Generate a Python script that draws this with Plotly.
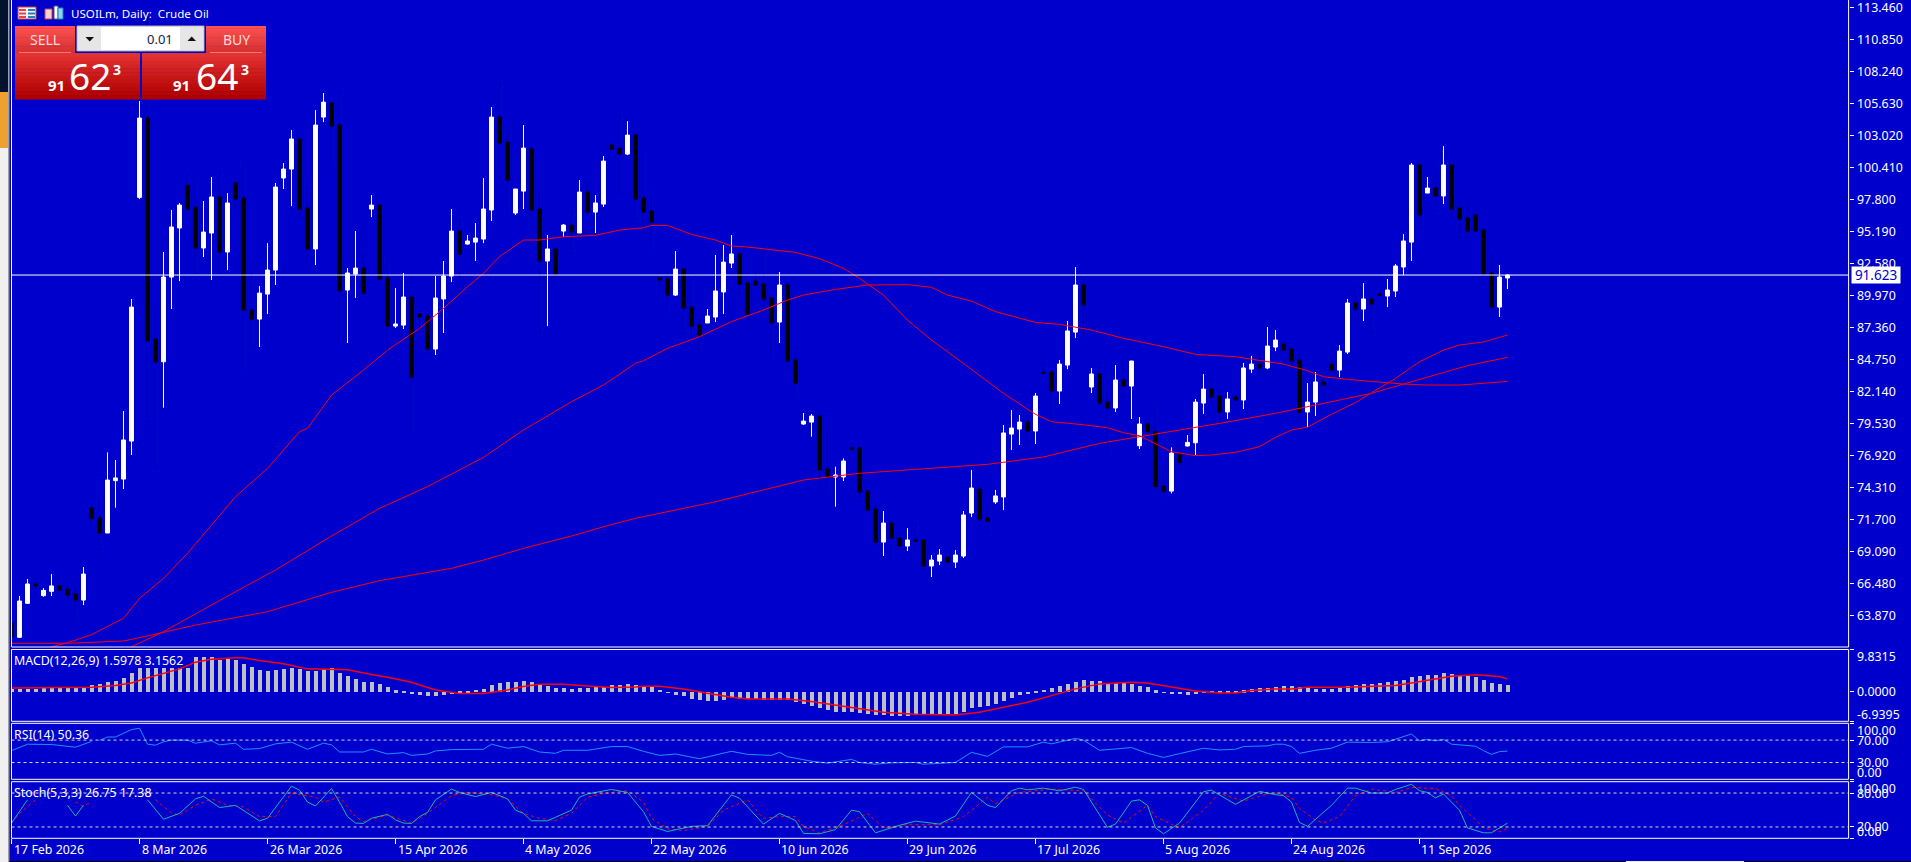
import plotly.graph_objects as go

W = 1911
H = 862

bar_pos = list(range(188))

open_px = [63.26,62.07,64.84,66.42,65.47,65.82,66.26,65.98,65.60,65.11,
72.62,71.80,70.58,74.85,74.98,78.08,97.96,104.43,86.38,84.55,
91.46,95.46,98.94,97.14,93.83,95.05,97.99,93.50,99.13,97.90,
88.77,88.03,90.07,92.03,99.54,100.27,102.72,97.09,93.75,104.51,
105.65,103.86,90.40,91.70,92.19,97.01,97.33,91.38,87.46,87.54,
89.83,88.44,88.28,85.59,89.67,91.54,95.21,94.15,94.31,94.56,
96.93,104.51,102.47,96.68,98.47,101.90,97.01,92.77,93.75,95.21,
95.70,95.05,98.39,96.76,97.41,102.23,101.98,101.49,103.04,97.90,
96.84,91.38,91.30,89.99,92.11,89.01,87.54,87.71,88.20,90.24,
92.60,93.34,90.97,91.13,90.89,89.75,87.79,90.81,84.69,79.47,
79.63,80.12,75.80,75.15,75.15,77.51,77.51,74.00,72.53,69.84,
71.39,70.17,69.52,70.01,70.01,67.89,68.29,68.62,68.21,68.70,
72.21,74.17,71.80,73.11,73.52,78.65,79.06,79.63,78.90,83.68,
83.71,82.16,84.28,86.97,90.81,82.49,83.55,81.26,80.78,83.06,
82.57,77.70,79.47,78.84,74.41,74.00,77.00,77.68,77.94,81.18,
82.32,81.75,80.45,81.67,81.43,83.95,84.36,84.04,85.75,85.99,
85.59,84.69,80.45,81.26,82.90,84.36,83.87,85.34,89.34,88.85,
89.67,90.07,89.91,90.32,92.28,94.31,100.60,98.31,98.72,98.07,
100.60,97.09,96.27,96.52,95.29,91.79,89.01,91.38]

high_px = [63.56,65.44,66.83,67.02,66.09,67.23,67.15,66.58,66.66,67.80,
73.03,73.13,77.16,76.53,80.53,89.67,105.82,112.75,89.15,93.50,
96.93,97.50,99.86,99.37,97.66,99.62,100.19,98.31,99.54,101.00,
92.68,90.73,94.23,99.13,100.76,103.45,102.96,98.80,105.08,106.47,
105.73,106.63,92.19,95.21,93.42,98.15,97.58,93.17,90.56,91.79,
90.07,88.44,88.50,91.54,92.77,97.01,96.27,94.89,95.86,99.54,
105.33,107.37,103.45,98.64,103.86,102.31,98.47,94.89,94.07,95.78,
96.93,99.37,99.29,98.15,101.33,102.39,104.76,104.18,103.45,101.66,
98.47,91.38,91.87,93.58,92.19,91.30,88.03,88.85,93.26,94.07,
94.89,93.66,91.54,91.87,93.50,89.75,91.87,91.05,85.75,80.37,
80.29,80.12,79.14,75.99,76.67,77.84,77.68,74.17,73.03,72.37,
71.72,70.25,70.98,71.47,70.01,68.78,69.27,68.62,69.19,72.37,
75.72,74.41,72.94,74.09,79.39,80.61,80.20,80.29,82.00,84.45,
84.04,84.69,87.87,92.28,91.30,84.04,84.61,82.16,84.28,84.45,
84.61,80.04,79.71,80.94,75.77,77.57,77.84,78.57,81.51,83.55,
83.14,82.32,82.08,81.83,84.45,85.02,85.67,87.38,87.14,86.16,
85.83,85.34,82.81,83.71,83.06,84.85,85.91,89.67,90.81,90.97,
89.91,90.32,91.30,92.52,94.97,100.76,100.76,99.62,100.70,102.15,
100.60,97.74,97.74,96.52,95.46,93.34,92.44,91.68]

low_px = [62.12,62.01,64.79,65.71,65.38,65.44,65.47,65.03,63.48,64.70,
70.90,69.11,70.58,72.64,74.17,76.94,97.82,79.58,75.94,80.80,
88.85,91.13,96.68,91.76,93.09,91.22,91.76,92.03,96.11,83.87,
85.75,85.75,88.44,90.81,98.64,97.25,96.19,92.36,92.44,104.10,
100.68,85.91,86.08,89.75,89.99,96.35,90.89,84.77,87.30,87.22,
78.82,86.87,85.10,85.10,86.89,91.05,91.22,94.12,92.77,94.23,
96.03,100.27,96.44,96.52,97.01,96.35,86.81,87.46,90.89,94.72,
93.26,95.05,96.44,95.05,97.17,101.49,98.15,101.41,96.11,94.89,
93.75,90.40,88.52,89.91,86.73,86.48,85.34,87.71,87.79,88.44,
92.19,89.99,87.95,90.48,88.85,84.69,86.08,83.79,81.75,79.39,
78.44,74.69,73.95,72.73,74.82,77.02,73.03,72.29,69.44,68.70,
68.37,69.44,69.11,69.03,67.80,66.99,67.97,68.13,67.72,68.54,
71.88,71.07,70.58,72.94,72.45,77.35,77.76,77.89,77.84,83.47,
79.39,81.10,83.95,86.48,86.57,82.00,80.86,77.13,80.45,81.67,
79.88,77.43,77.35,74.22,73.46,73.81,75.66,77.62,76.94,80.29,
81.26,79.31,79.88,81.35,80.69,83.63,83.22,83.95,85.42,85.42,
83.87,79.80,79.22,80.12,81.51,83.63,83.30,85.18,87.63,87.87,
86.89,89.83,89.01,89.83,91.62,92.77,95.38,98.31,96.76,97.41,
96.27,94.56,94.56,95.13,90.81,88.28,88.20,90.48]

close_px = [62.12,65.03,66.42,66.26,65.90,66.26,65.93,65.52,65.11,67.23,
71.75,70.58,74.90,75.07,78.17,89.01,104.43,86.27,84.55,91.46,
95.54,97.33,97.01,93.83,95.13,97.99,93.50,97.50,97.82,88.77,
88.03,90.15,92.03,98.80,100.27,102.72,97.01,93.75,103.86,105.73,
103.78,90.32,91.79,92.19,90.15,97.33,91.30,87.46,87.63,89.83,
83.30,88.20,85.59,89.75,91.54,95.21,93.34,94.40,94.64,97.01,
104.51,102.39,99.37,98.64,101.98,96.93,92.77,93.75,91.70,95.70,
95.13,98.39,96.76,97.50,100.92,101.90,101.49,103.04,97.82,96.76,
95.94,91.22,89.99,92.11,88.93,87.46,86.73,88.28,90.32,92.68,
93.34,90.89,88.44,90.81,89.67,87.71,90.81,84.61,82.81,79.71,
80.12,75.72,75.15,75.31,76.45,77.43,73.92,72.45,69.84,71.39,
70.17,69.52,70.01,69.93,67.89,68.37,68.78,68.21,68.78,72.05,
74.25,71.72,71.56,73.60,78.74,79.14,79.63,78.90,81.75,83.63,
82.16,84.36,87.06,90.81,89.18,83.55,81.18,80.78,83.06,82.57,
84.61,79.47,78.84,74.36,74.00,77.10,76.32,77.97,81.26,82.32,
81.67,80.45,81.51,81.43,84.04,84.36,84.04,85.83,86.32,85.50,
84.61,80.45,81.26,82.90,82.65,83.87,85.42,89.34,88.85,89.67,
89.26,89.99,90.40,92.36,94.40,100.60,96.52,98.72,98.07,100.60,
97.01,96.19,95.21,95.21,91.70,89.01,91.46,91.62]

# moving averages, read at the bars listed
ma_a_pos = [5,7,10,14,16,19,22,25,28,32,36,37,40,44,47,51,54,57,59,61,64,66,69,73,76,79,80,82,85,88,90,92,95,98,101,104,106,109,112,115,119,124,128,130,134,137,139,141,145,148,150,153,156,158,160,162,165,168,170,173,176,179,181,184,187]
ma_a = [61.30,61.63,62.28,63.62,65.25,66.88,68.92,71.23,73.54,75.85,78.84,79.12,81.83,83.87,85.50,87.27,88.90,90.67,91.76,93.12,94.48,94.48,94.75,94.86,95.29,95.48,95.67,95.67,94.94,94.48,93.99,93.91,93.69,93.47,92.96,92.17,91.35,89.99,87.95,86.32,84.42,81.97,80.26,79.66,79.41,79.17,78.76,78.52,77.21,76.89,76.94,77.16,77.62,78.38,78.98,79.22,80.26,81.21,82.02,83.19,84.55,85.50,85.91,86.16,86.73]
ma_b_pos = [15,19,28,33,40,46,52,59,64,70,74,78,79,82,86,90,94,97,99,103,107,112,115,117,120,123,128,131,135,139,144,148,153,157,159,162,164,167,171,174,177,181,184,187]
ma_b = [61.30,62.53,65.79,67.56,70.33,72.59,74.36,76.75,78.98,81.29,82.65,84.42,84.63,85.64,86.59,87.82,88.77,89.58,89.99,90.45,90.81,90.84,90.62,89.99,89.50,88.63,87.76,87.60,87.14,86.46,85.78,85.15,84.96,84.55,84.36,83.82,83.33,83.11,82.87,82.73,82.65,82.65,82.79,82.95]
ma_c_pos = [0,7,14,17,23,32,40,46,55,59,64,70,74,78,88,99,106,114,122,129,136,146,151,158,164,170,176,182,187]
ma_c = [61.58,61.58,61.77,62.18,63.07,64.16,65.74,66.69,67.70,68.37,69.33,70.33,71.09,71.78,73.13,74.90,75.45,75.80,76.18,76.78,77.89,78.98,79.52,80.34,81.15,81.97,83.11,84.23,84.91]

last_price = 91.623

price_ticks = [113.46,110.85,108.24,105.63,103.02,100.41,97.80,95.19,92.58,89.97,87.36,84.75,82.14,79.53,76.92,74.31,71.70,69.09,66.48,63.87]
price_labels = ["113.460","110.850","108.240","105.630","103.020","100.410","97.800","95.190","92.580","89.970","87.360","84.750","82.140","79.530","76.920","74.310","71.700","69.090","66.480","63.870"]

macd_hist = [0.70,0.70,0.70,0.70,1.09,1.09,1.09,1.09,1.09,1.09,
1.64,1.88,2.27,2.58,3.28,4.38,5.55,5.55,5.55,5.55,
5.55,5.55,5.55,8.13,8.13,8.13,7.58,7.73,7.42,6.48,
5.78,5.08,4.84,5.08,5.31,5.55,5.31,4.84,4.84,5.31,
5.55,4.38,3.67,2.97,2.27,2.27,1.80,1.09,0.39,0.20,
-0.5,-0.7,-0.95,-0.95,-0.7,-0.25,0.2,0.35,0.5,0.75,
1.6,2.1,2.35,2.35,2.6,2.35,1.6,1.4,0.95,0.95,
0.75,0.95,0.95,1.15,1.15,1.65,1.65,1.9,1.65,1.3,
1.3,0.5,-0.1,-0.6,-1.0,-1.5,-1.9,-2.1,-2.1,-1.8,
-1.4,-1.5,-1.7,-1.7,-1.8,-1.8,-1.8,-1.9,-2.3,-2.8,
-3.2,-3.7,-4.2,-4.7,-4.7,-4.7,-4.9,-5.1,-5.4,-5.4,
-5.6,-5.6,-5.6,-5.4,-5.4,-5.4,-5.2,-5.2,-5.2,-4.7,
-3.7,-3.5,-3.2,-2.8,-2.1,-1.4,-0.7,-0.4,0.2,0.6,
0.9,1.4,1.9,2.4,2.9,2.6,2.5,2.1,2.1,2.1,
1.9,1.4,1.2,0.4,-0.2,-0.4,-0.4,-0.6,-0.4,-0.1,
0.05,0.1,0.15,0.2,0.4,0.7,0.9,1.0,1.3,1.4,
1.4,1.2,1.0,0.7,0.7,0.7,1.2,1.4,1.65,1.9,
1.9,2.1,2.35,2.6,2.8,3.5,3.75,4.0,4.0,4.45,
4.2,4.0,3.75,3.5,2.8,2.1,1.9,1.6]
macd_sig_pos = [0,4,8,10,13,15,17,19,21,23,25,28,29,31,34,37,40,42,45,47,50,53,56,59,62,64,66,69,72,75,78,79,81,84,87,90,92,97,100,103,106,109,113,118,121,124,127,130,133,136,140,142,145,148,151,153,155,158,160,162,167,171,173,175,178,180,183,186,187]
macd_sig = [0.86,0.86,0.86,1.02,1.41,2.03,3.20,4.30,5.31,6.88,7.58,7.89,7.89,7.27,6.48,5.31,5.08,5.08,3.98,3.36,2.19,0.39,-0.47,-0.47,0.39,1.17,1.72,1.72,1.33,0.94,1.09,1.25,1.25,0.63,-0.39,-1.33,-1.72,-1.72,-2.34,-3.13,-4.06,-4.84,-5.31,-5.47,-4.84,-3.67,-2.50,-0.94,0.63,1.80,2.19,2.03,1.09,0.16,-0.31,-0.31,0.23,0.63,0.63,1.02,1.02,1.33,1.41,2.03,2.97,3.59,3.91,3.52,2.97]

# None = hidden behind the indicator caption in the terminal
rsi_pos = [0,2,5,8,10,None,11,12,13,15,16,17,18,19,20,22,23,25,26,28,29,31,33,35,37,39,40,41,44,45,47,49,50,52,53,55,59,60,62,64,66,68,69,72,75,77,79,81,83,86,90,92,95,96,97,100,102,105,106,108,110,113,114,118,120,122,124,127,129,130,133,134,136,140,142,144,146,149,151,153,154,157,158,159,160,161,163,165,167,170,172,175,176,177,178,179,180,182,183,184,185,186,187]
rsi_val = [51.2,62.7,62.1,57.3,67.6,None,69.4,75.5,75.5,88.8,91.2,62.7,60.9,67.0,70.0,70.0,64.5,68.8,61.5,64.5,53.6,54.8,63.3,66.4,53.6,64.5,61.5,48.8,48.8,53.6,45.2,47.6,42.7,45.2,50.6,53.0,53.6,62.7,55.5,58.5,48.8,46.4,51.8,51.8,58.5,58.5,50.0,42.7,45.2,36.7,50.0,44.5,42.7,48.2,40.3,32.4,28.8,35.5,30.0,27.0,29.4,30.0,27.0,30.0,48.2,40.9,57.9,57.9,66.4,63.3,73.0,70.0,51.8,56.7,46.4,39.1,45.8,55.5,52.4,53.6,58.5,59.7,62.7,62.7,58.5,46.4,51.8,55.5,66.4,65.8,67.0,80.9,68.8,71.2,68.8,71.2,62.7,59.7,59.1,51.2,44.5,49.4,50.36]

stoch_pos = [0,1,2,None,7,8,9,None,17,19,21,23,24,26,28,31,32,35,36,37,38,40,41,42,43,44,45,47,48,49,50,51,52,53,55,56,58,60,62,63,64,65,67,70,71,72,75,77,79,80,82,85,87,90,91,94,96,98,99,101,103,105,106,108,111,113,116,118,120,122,123,125,126,127,129,131,133,134,137,138,140,141,142,143,144,146,149,150,153,156,158,159,160,161,162,165,167,168,170,172,173,175,176,177,178,179,181,182,184,185,187]
stoch_val = [26.9,46.9,68.0,None,58.3,39.4,58.3,None,68.0,33.7,44.0,69.7,74.3,54.3,58.3,30.9,35.4,92.0,85.1,64.0,57.1,88.0,64.0,38.3,26.9,26.3,35.4,42.3,32.6,26.9,26.3,38.3,45.7,68.0,86.9,81.1,73.7,81.1,69.7,49.7,44.0,30.9,30.9,49.7,72.6,78.3,86.3,81.1,46.9,21.1,12.0,21.1,22.3,76.6,70.9,25.1,44.0,31.4,8.6,8.0,15.4,49.7,46.9,9.7,22.9,30.3,25.1,39.4,81.1,58.3,54.3,84.0,88.6,85.7,88.6,84.0,90.3,86.3,19.4,25.1,65.7,68.0,58.3,18.3,8.0,26.9,82.3,85.1,60.0,82.9,77.1,75.4,64.0,28.0,21.1,58.3,88.6,88.6,80.0,80.0,86.3,95.4,84.0,81.1,71.4,78.3,49.7,18.3,9.7,9.7,26.75]
stoch_sig_pos = [0,1,3,None,8,9,10,None,18,20,21,23,25,27,29,31,33,35,38,39,41,43,44,47,50,52,55,57,60,62,64,66,68,70,72,74,77,79,80,82,84,87,89,92,94,96,98,99,101,104,107,109,112,116,119,122,123,126,130,134,137,139,142,143,146,149,151,154,157,158,160,161,163,164,166,168,170,173,175,178,180,181,183,184,186,187]
stoch_sig = [26.9,44.0,68.0,None,64.0,56.5,64.0,None,68.0,44.0,41.1,58.3,69.7,58.3,55.4,38.3,38.3,80.0,72.6,64.0,72.6,38.3,29.7,41.1,26.9,44.0,75.4,81.1,77.1,69.7,44.0,35.4,31.4,44.0,72.6,79.4,84.0,64.0,35.4,16.6,13.7,21.1,49.7,68.0,35.4,38.3,38.3,21.1,9.7,24.0,44.0,18.3,24.0,24.0,38.3,72.6,61.1,81.1,86.9,84.0,41.1,26.9,58.3,38.3,18.3,49.7,79.4,65.7,78.3,80.0,72.6,52.6,32.6,26.9,38.3,75.4,86.9,81.1,89.7,88.0,75.4,58.3,32.6,18.3,11.4,17.38]

macd_labels = [9.8315, 0.0, -6.9395]
macd_text = ["9.8315", "0.0000", "-6.9395"]
rsi_levels = [70, 30]
rsi_labels = [100, 70, 30, 0]
rsi_text = ["100.00", "70.00", "30.00", "0.00"]
stoch_levels = [80, 20]
stoch_labels = [100, 80, 20, 0]
stoch_text = ["100.00", "80.00", "20.00", "0.00"]

date_pos = [0,16,32,48,64,80,96,112,128,144,160,176]
date_text = ["17 Feb 2026","8 Mar 2026","26 Mar 2026","15 Apr 2026","4 May 2026","22 May 2026","10 Jun 2026","29 Jun 2026","17 Jul 2026","5 Aug 2026","24 Aug 2026","11 Sep 2026"]

BG = "#0000CD"
FONT = "Noto Sans"
LABEL_SIZE = 12.4
DASH = "#D8D8C8"

X_LEFT = 11.5
X_RIGHT = 1848.6


def dom(y_top, y_bot):
    return [1 - y_bot / H, 1 - y_top / H]


shapes = []
notes = []


def rect(x0, y0, x1, y1, fill, line=None):
    shapes.append(dict(type="rect", xref="paper", yref="paper",
                       x0=x0 / W, x1=x1 / W, y0=1 - y0 / H, y1=1 - y1 / H,
                       fillcolor=fill, line=dict(color=line or fill, width=1 if line else 0)))


def gradient(x0, y0, x1, y1, top, bottom, steps=12):
    for k in range(steps):
        t = k / (steps - 1)
        col = "rgb(%d,%d,%d)" % tuple(top[j] + (bottom[j] - top[j]) * t for j in range(3))
        ya = y0 + (y1 - y0) * k / steps
        yb = y0 + (y1 - y0) * (k + 1) / steps
        rect(x0, ya, x1, yb + 0.5, col)


def tri(xs, ys, fill):
    path = "M " + " L ".join("%f,%f" % (x / W, 1 - y / H) for x, y in zip(xs, ys)) + " Z"
    shapes.append(dict(type="path", xref="paper", yref="paper", path=path, fillcolor=fill, line=dict(width=0)))


def text(x, y, s, size=LABEL_SIZE, color="white", anchor="left", bold=False):
    notes.append(dict(xref="paper", yref="paper", x=x / W, y=1 - y / H, text="<b>%s</b>" % s if bold else s,
                      showarrow=False, xanchor=anchor, yanchor="middle",
                      font=dict(family=FONT, size=size, color=color), borderpad=0, borderwidth=0))


fig = go.Figure()

fig.add_trace(go.Candlestick(x=bar_pos, open=open_px, high=high_px, low=low_px, close=close_px,
                             increasing=dict(line=dict(color="white", width=1), fillcolor="white"),
                             decreasing=dict(line=dict(color="black", width=1), fillcolor="black"),
                             whiskerwidth=0, showlegend=False, hoverinfo="skip", yaxis="y"))
for pos, vals in [(ma_a_pos, ma_a), (ma_b_pos, ma_b), (ma_c_pos, ma_c)]:
    fig.add_trace(go.Scatter(x=pos, y=vals, mode="lines", line=dict(color="#FF0000", width=1),
                             showlegend=False, hoverinfo="skip", yaxis="y"))

fig.add_trace(go.Bar(x=bar_pos, y=macd_hist, width=0.45, marker=dict(color="#C0C0C0", line=dict(width=0)),
                     showlegend=False, hoverinfo="skip", yaxis="y2"))
fig.add_trace(go.Scatter(x=macd_sig_pos, y=macd_sig, mode="lines", line=dict(color="#FF0000", width=1.5),
                         showlegend=False, hoverinfo="skip", yaxis="y2"))

fig.add_trace(go.Scatter(x=rsi_pos, y=rsi_val, mode="lines", line=dict(color="#1E90FF", width=1),
                         showlegend=False, hoverinfo="skip", yaxis="y3"))

fig.add_trace(go.Scatter(x=stoch_sig_pos, y=stoch_sig, mode="lines", line=dict(color="#FF0000", width=1, dash="3px,3px"),
                         showlegend=False, hoverinfo="skip", yaxis="y4"))
fig.add_trace(go.Scatter(x=stoch_pos, y=stoch_val, mode="lines", line=dict(color="#20B2AA", width=1),
                         showlegend=False, hoverinfo="skip", yaxis="y4"))

# current price line
shapes.append(dict(type="line", xref="paper", yref="y", x0=X_LEFT / W, x1=X_RIGHT / W, y0=last_price, y1=last_price,
                   line=dict(color="white", width=1)))
for lv in rsi_levels:
    shapes.append(dict(type="line", xref="paper", yref="y3", x0=X_LEFT / W, x1=X_RIGHT / W, y0=lv, y1=lv,
                       line=dict(color=DASH, width=1, dash="3px,3px")))
for lv in stoch_levels:
    shapes.append(dict(type="line", xref="paper", yref="y4", x0=X_LEFT / W, x1=X_RIGHT / W, y0=lv, y1=lv,
                       line=dict(color=DASH, width=1, dash="3px,3px")))

# window edges
rect(0, 0, 8, 92, "#00142E")
rect(0, 92, 8, 148, "#F0A030")
rect(0, 148, 8, H, "#F0F0F0")
rect(8, 0, 9.5, H, "#A0A0A0")
rect(9.5, 861, W, H, "#000000")
rect(1626, 861, 1744, H, "#F0F0F0")

# pane frames
for top, bot in [(-2, 647), (649.5, 721.3), (723.3, 779.3), (781.7, 838.3)]:
    shapes.append(dict(type="rect", xref="paper", yref="paper", x0=X_LEFT / W, x1=X_RIGHT / W,
                       y0=1 - bot / H, y1=1 - top / H, line=dict(color="white", width=1)))

# one click trading panel
gradient(15, 26, 75, 53, (255, 82, 82), (214, 48, 48))
rect(19, 52.2, 71, 53, "#FF9090")
gradient(206, 26, 266, 53, (255, 82, 82), (214, 48, 48))
rect(210, 52.2, 262, 53, "#FF9090")
gradient(15, 53, 140, 99, (226, 50, 50), (176, 0, 0))
gradient(142, 53, 266, 99, (226, 50, 50), (176, 0, 0))
rect(77, 26, 204, 51, "#FFFFFF", "#A8A8A8")
rect(78, 27, 101, 50, "#E6E6E6")
rect(180, 27, 203, 50, "#E6E6E6")
tri([85.5, 94, 89.7], [37, 37, 41.5], "#101010")
tri([187.5, 196, 191.7], [41, 41, 36.5], "#101010")

# chart icons
rect(18, 7, 36, 19, "#F8F0F0", "#D04040")
rect(19, 9, 26, 11, "#E04848")
rect(19, 12.5, 26, 14.5, "#E04848")
rect(19, 16, 26, 18, "#E04848")
rect(28, 9, 35, 11, "#2080C0")
rect(28, 12.5, 35, 14.5, "#2080C0")
rect(28, 16, 35, 18, "#2080C0")
rect(45, 9, 52, 19, "#F8D0D0", "#D04040")
rect(54, 6, 58, 19, "#FFFFFF", "#406080")
rect(58, 8, 63, 19, "#90D0F0", "#2080C0")

text(70.5, 13.7, "USOILm, Daily:  Crude Oil", size=11.6)
text(45, 39.5, "SELL", size=14, color="#FFD8D8", anchor="center")
text(236, 39.5, "BUY", size=14, color="#FFD8D8", anchor="center")
text(173, 38.5, "0.01", size=13, color="#102050", anchor="right")
text(48, 85, "91", size=15, bold=True)
text(69, 76, "62", size=37)
text(113, 69, "3", size=14, bold=True)
text(173, 85, "91", size=15, bold=True)
text(196, 76, "64", size=37)
text(241, 69, "3", size=14, bold=True)

# indicator captions
text(14.3, 660.7, "MACD(12,26,9) 1.5978 3.1562")
text(14.3, 734.7, "RSI(14) 50.36")
text(14.3, 792.7, "Stoch(5,3,3) 26.75 17.38")

# right scale of the price pane, top label would be dropped as a native tick
for v, s in zip(price_ticks, price_labels):
    notes.append(dict(xref="paper", yref="y", x=1854.5 / W, y=v, text=s, showarrow=False, xanchor="left",
                      yanchor="middle", font=dict(family=FONT, size=LABEL_SIZE, color="white")))

# last price flag, comes after the labels so it covers 92.580
notes.append(dict(xref="paper", yref="y", x=1851 / W, y=last_price, text="91.623", showarrow=False,
                  xanchor="left", yanchor="middle", bgcolor="white", width=46, height=14, align="center",
                  font=dict(family=FONT, size=13.5, color=BG)))

# right scale of the lower panes, end labels pulled inside the pane
for axis, vals, labels in [("y2", macd_labels, macd_text), ("y3", rsi_labels, rsi_text), ("y4", stoch_labels, stoch_text)]:
    for k, (v, s) in enumerate(zip(vals, labels)):
        shift = 0
        if k == 0:
            shift = -7
        if k == len(vals) - 1:
            shift = 7
        notes.append(dict(xref="paper", yref=axis, x=1854.5 / W, y=v, text=s, showarrow=False, xanchor="left",
                          yanchor="middle", yshift=shift, font=dict(family=FONT, size=LABEL_SIZE, color="white")))

# dates sit to the right of their tick
for p, s in zip(date_pos, date_text):
    notes.append(dict(xref="x", yref="paper", x=p, y=1 - 849.3 / H, text=s, showarrow=False, xanchor="left",
                      yanchor="middle", font=dict(family=FONT, size=LABEL_SIZE, color="white")))


def right_axis(domain, rng, ticks):
    return dict(domain=domain, range=rng, side="right", anchor="x", tickvals=ticks, ticks="outside", ticklen=4,
                tickcolor="white", tickwidth=1, showgrid=False, zeroline=False, showline=False, fixedrange=True,
                showticklabels=False)


fig.update_layout(
    width=W, height=H,
    margin=dict(l=0, r=0, t=0, b=0),
    paper_bgcolor=BG, plot_bgcolor=BG,
    showlegend=False,
    bargap=0,
    shapes=shapes,
    annotations=notes,
    xaxis=dict(domain=[X_LEFT / W, X_RIGHT / W], range=[0, 229.64], anchor="y4", tickvals=date_pos, ticks="outside",
               ticklen=5, tickcolor="white", showticklabels=False, showgrid=False, zeroline=False,
               rangeslider=dict(visible=False), fixedrange=True),
    yaxis=right_axis(dom(0, 647), [61.28, 114.06], price_ticks),
    yaxis2=right_axis(dom(649.5, 721.3), [-6.9395, 9.8315], macd_labels),
    yaxis3=right_axis(dom(723.3, 779.3), [0, 100], rsi_labels),
    yaxis4=right_axis(dom(781.7, 838.3), [0, 100], stoch_labels),
)

fig.write_html("out.html", config=dict(displayModeBar=False), post_script="document.body.style.margin='0';")
